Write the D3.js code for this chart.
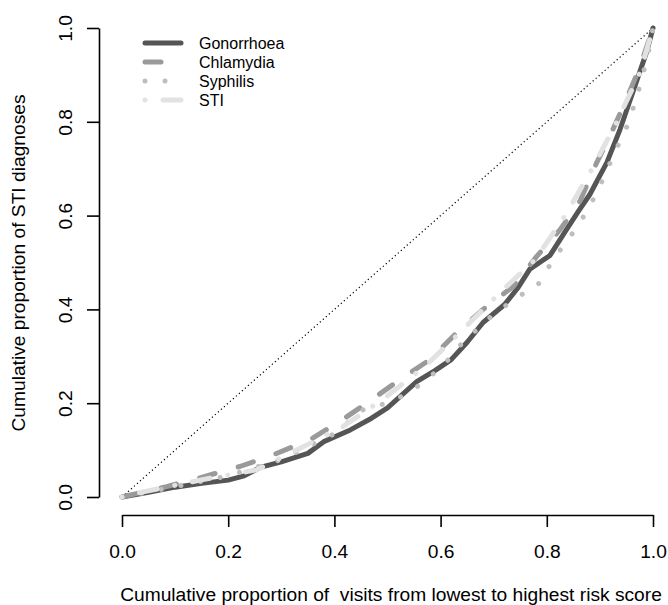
<!DOCTYPE html>
<html>
<head>
<meta charset="utf-8">
<script src="https://cdn.jsdelivr.net/npm/d3@7"></script>
<style>
  body { margin: 0; background: #fff; }
  svg { display: block; font-family: "Liberation Sans", Arial, sans-serif; }
</style>
</head>
<body>
<div id="chart"></div>
<script>
// series (x = cumulative share of visits, y = cumulative share of diagnoses)
const gonX = [0, 0.05, 0.10, 0.15, 0.20, 0.23, 0.26, 0.30, 0.35, 0.38, 0.43, 0.47, 0.50, 0.555, 0.59, 0.62, 0.65, 0.68, 0.72, 0.745, 0.768, 0.806, 0.837, 0.86, 0.881, 0.913, 0.938, 0.962, 0.988, 1];
const gonY = [0, 0.010, 0.021, 0.029, 0.036, 0.045, 0.063, 0.075, 0.093, 0.118, 0.143, 0.168, 0.190, 0.246, 0.270, 0.293, 0.330, 0.372, 0.410, 0.445, 0.486, 0.515, 0.570, 0.610, 0.645, 0.713, 0.784, 0.863, 0.949, 1];

const chlX = [0, 0.084, 0.153, 0.222, 0.285, 0.354, 0.41, 0.461, 0.523, 0.58, 0.63, 0.68, 0.737, 0.781, 0.825, 0.863, 0.894, 0.919, 0.95, 0.976, 1];
const chlY = [0, 0.022, 0.043, 0.065, 0.090, 0.122, 0.161, 0.200, 0.250, 0.293, 0.350, 0.400, 0.449, 0.513, 0.570, 0.632, 0.713, 0.770, 0.848, 0.919, 1];

const syphX = [0, 0.10, 0.20, 0.30, 0.40, 0.454, 0.511, 0.561, 0.605, 0.642, 0.70, 0.75, 0.781, 0.812, 0.847, 0.878, 0.903, 0.928, 0.953, 0.972, 0.99, 1];
const syphY = [0, 0.022, 0.045, 0.080, 0.135, 0.186, 0.204, 0.239, 0.280, 0.330, 0.390, 0.430, 0.448, 0.506, 0.560, 0.613, 0.671, 0.735, 0.795, 0.863, 0.940, 1];

const stiX = [0, 0.04, 0.147, 0.254, 0.329, 0.416, 0.498, 0.574, 0.642, 0.712, 0.778, 0.834, 0.885, 0.928, 0.976, 1];
const stiY = [0, 0.011, 0.036, 0.058, 0.100, 0.150, 0.214, 0.282, 0.357, 0.436, 0.506, 0.599, 0.699, 0.791, 0.906, 1];

const seriesNames = ["Gonorrhoea", "Chlamydia", "Syphilis", "STI"];
const ticks = [0, 0.2, 0.4, 0.6, 0.8, 1.0];

const W = 668, H = 605;
const FONT = 19.2;
const LEG_FONT = 16;

const series = [
  { name: seriesNames[0], xs: gonX, ys: gonY, color: "#555555", dash: null },
  { name: seriesNames[1], xs: chlX, ys: chlY, color: "#9a9a9a", dash: "16 24" },
  { name: seriesNames[2], xs: syphX, ys: syphY, color: "#bebebe", dash: "0.01 20" },
  { name: seriesNames[3], xs: stiX, ys: stiY, color: "#e2e2e2", dash: "0.01 18 18 18" }
];

const x = d3.scaleLinear().domain([0, 1]).range([122, 653]);
const y = d3.scaleLinear().domain([0, 1]).range([497, 28]);

const svg = d3.select("#chart").append("svg")
    .attr("width", W)
    .attr("height", H);

// diagonal reference
svg.append("line")
    .attr("x1", x(0)).attr("y1", y(0))
    .attr("x2", x(1)).attr("y2", y(1))
    .attr("stroke", "#000")
    .attr("stroke-width", 1.2)
    .attr("stroke-dasharray", "1.2 2.8");

const line = d3.line()
    .x(d => x(d[0]))
    .y(d => y(d[1]));

series.forEach(s => {
    const pts = s.xs.map((v, i) => [v, s.ys[i]]);
    svg.append("path")
        .datum(pts)
        .attr("d", line)
        .attr("fill", "none")
        .attr("stroke", s.color)
        .attr("stroke-width", 5)
        .attr("stroke-linecap", "round")
        .attr("stroke-linejoin", "round")
        .attr("stroke-dasharray", s.dash);
});

// axes
const xAxis = svg.append("g")
    .attr("transform", "translate(0,515)")
    .call(d3.axisBottom(x).tickValues(ticks).tickFormat(d3.format(".1f"))
        .tickSize(12).tickSizeOuter(0).tickPadding(17));

const yAxis = svg.append("g")
    .attr("transform", "translate(99,0)")
    .call(d3.axisLeft(y).tickValues(ticks).tickFormat(d3.format(".1f"))
        .tickSize(12).tickSizeOuter(0));

[xAxis, yAxis].forEach(g => {
    g.select(".domain").attr("stroke-width", 1.6);
    g.selectAll(".tick line").attr("stroke-width", 1.6);
    g.selectAll(".tick text")
        .attr("font-size", FONT)
        .attr("font-family", "Liberation Sans, Arial, sans-serif")
        .attr("fill", "#000");
});

yAxis.selectAll(".tick text")
    .attr("transform", "rotate(-90)")
    .attr("x", 0)
    .attr("y", -34)
    .attr("dy", "0.35em")
    .attr("text-anchor", "middle");

// axis titles
svg.append("text")
    .attr("x", 391)
    .attr("y", 601)
    .attr("text-anchor", "middle")
    .attr("font-size", FONT)
    .style("white-space", "pre")
    .text("Cumulative proportion of  visits from lowest to highest risk score");

svg.append("text")
    .attr("transform", "translate(25,263) rotate(-90)")
    .attr("text-anchor", "middle")
    .attr("font-size", FONT)
    .text("Cumulative proportion of STI diagnoses");

// legend
const legend = svg.append("g");
series.forEach((s, i) => {
    const ly = 43 + i * 19;
    legend.append("line")
        .attr("x1", 145).attr("x2", 181)
        .attr("y1", ly).attr("y2", ly)
        .attr("stroke", s.color)
        .attr("stroke-width", 5)
        .attr("stroke-linecap", "round")
        .attr("stroke-dasharray", s.dash);
    legend.append("text")
        .attr("x", 199)
        .attr("y", ly)
        .attr("dy", "0.35em")
        .attr("font-size", LEG_FONT)
        .text(s.name);
});
</script>
</body>
</html>
